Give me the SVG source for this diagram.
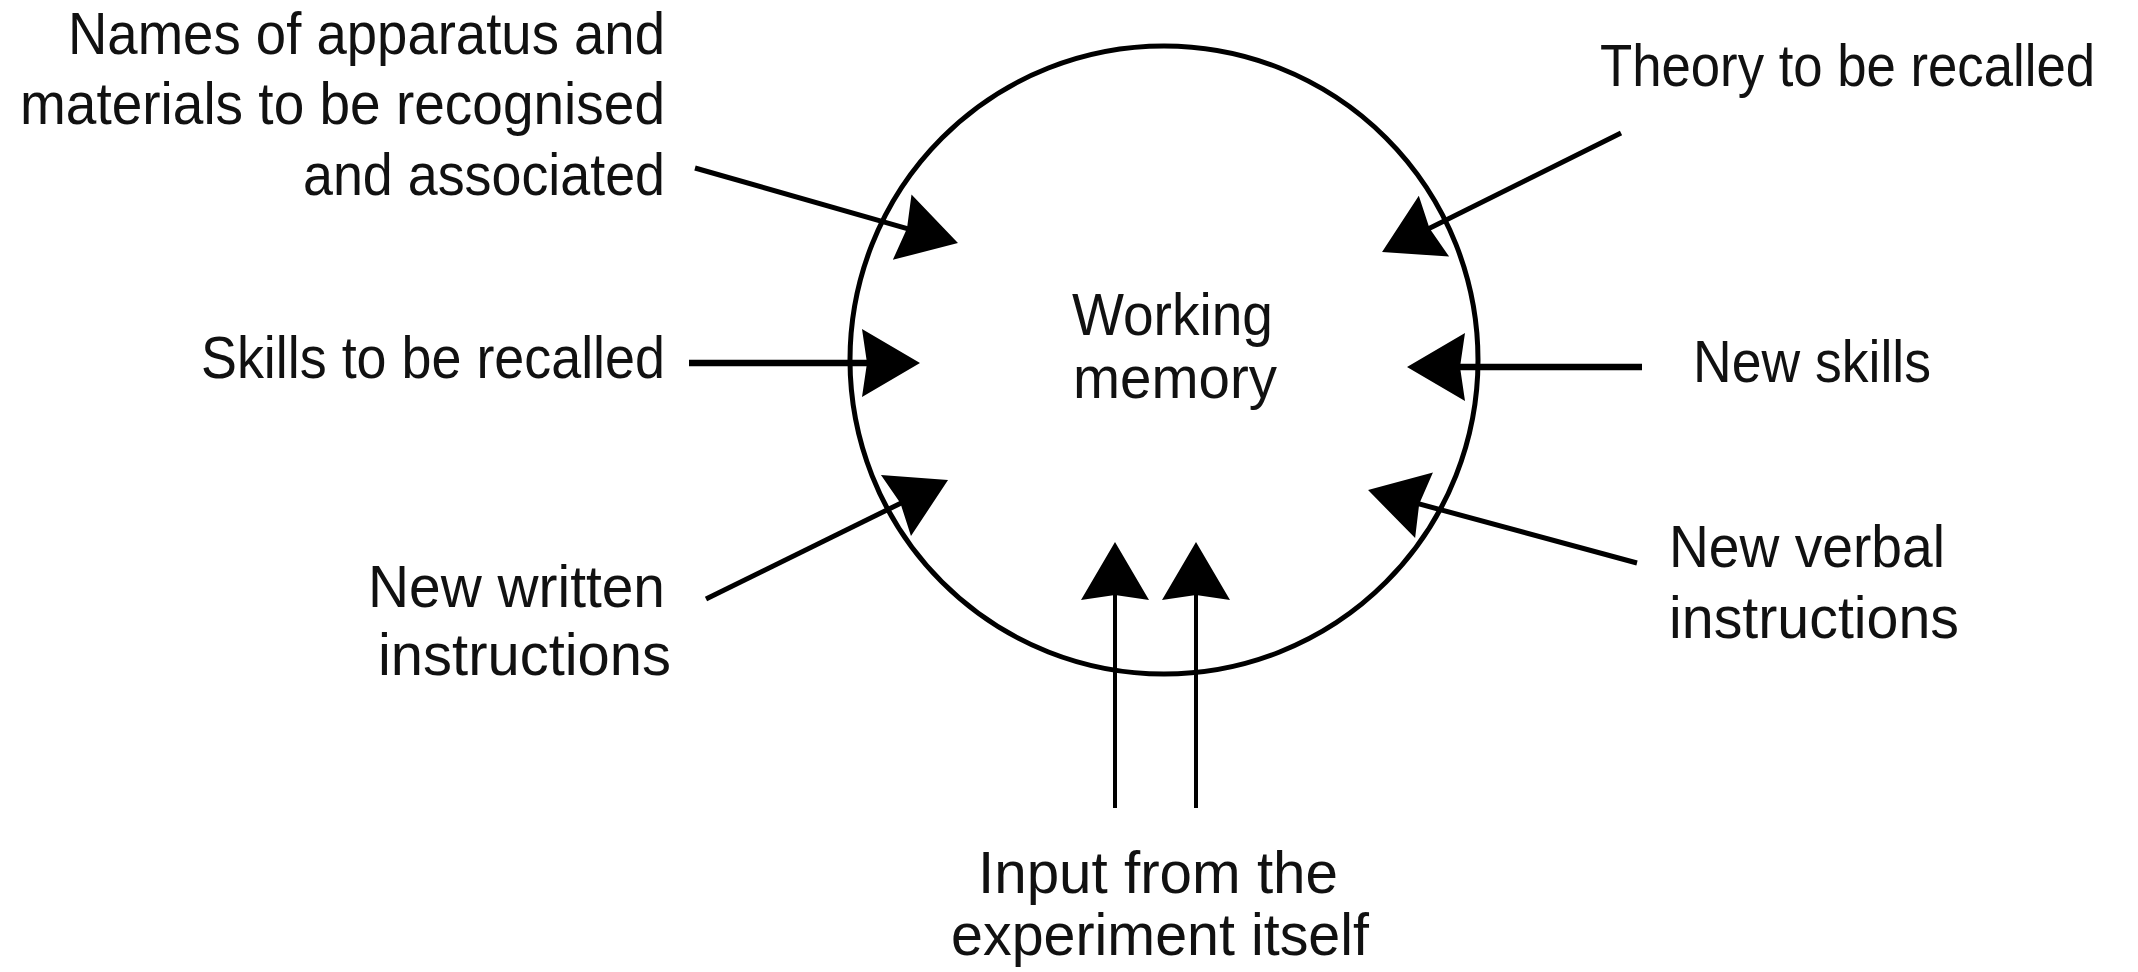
<svg xmlns="http://www.w3.org/2000/svg" width="2138" height="972" viewBox="0 0 2138 972">
<style>
  text { font-family: "Liberation Sans Narrow", "Liberation Sans", Arial, sans-serif; font-size: 59px; fill: #111; }
  .conn { stroke: #000; fill: none; stroke-linecap: butt; }
  .thick { stroke-width: 6.5; }
  .mid { stroke-width: 5; }
  .thin { stroke-width: 4; }
</style>
<defs>
  <marker id="ah" markerUnits="userSpaceOnUse" markerWidth="70" markerHeight="80" viewBox="-62 -40 70 80" refX="-30" refY="0" orient="auto">
    <path d="M0,0 L-58,-34 L-53,0 L-58,34 Z" fill="#000"/>
  </marker>
</defs>
<rect width="2138" height="972" fill="#fff"/>

<g id="working-memory">
  <circle cx="1164" cy="360" r="314" fill="none" stroke="#000" stroke-width="5"/>
  <text x="1072" y="335" textLength="201" lengthAdjust="spacingAndGlyphs">Working</text>
  <text x="1073" y="398" textLength="204" lengthAdjust="spacingAndGlyphs">memory</text>
</g>

<g id="names-apparatus">
  <text x="68" y="54" textLength="597" lengthAdjust="spacingAndGlyphs">Names of apparatus and</text>
  <text x="20" y="124" textLength="645" lengthAdjust="spacingAndGlyphs">materials to be recognised</text>
  <text x="303" y="195" textLength="362" lengthAdjust="spacingAndGlyphs">and associated</text>
</g>

<g id="skills-recalled">
  <text x="201" y="378" textLength="464" lengthAdjust="spacingAndGlyphs">Skills to be recalled</text>
</g>

<g id="new-written">
  <text x="368" y="607" textLength="297" lengthAdjust="spacingAndGlyphs">New written</text>
  <text x="378" y="675" textLength="293" lengthAdjust="spacingAndGlyphs">instructions</text>
</g>

<g id="theory-recalled">
  <text x="1600" y="86" font-size="52" textLength="495" lengthAdjust="spacingAndGlyphs">Theory to be recalled</text>
</g>

<g id="new-skills">
  <text x="1693" y="382" textLength="238" lengthAdjust="spacingAndGlyphs">New skills</text>
</g>

<g id="new-verbal">
  <text x="1669" y="567" textLength="276" lengthAdjust="spacingAndGlyphs">New verbal</text>
  <text x="1669" y="638" textLength="290" lengthAdjust="spacingAndGlyphs">instructions</text>
</g>

<g id="experiment-input">
  <text x="978" y="893" textLength="360" lengthAdjust="spacingAndGlyphs">Input from the</text>
  <text x="951" y="955" textLength="418" lengthAdjust="spacingAndGlyphs">experiment itself</text>
</g>

<g id="connectors">
  <line class="conn mid" x1="695" y1="168" x2="929.1" y2="234.8" marker-end="url(#ah)"/>
  <line class="conn thick" x1="689" y1="363" x2="890" y2="363" marker-end="url(#ah)"/>
  <line class="conn mid" x1="706" y1="599" x2="921.1" y2="493.2" marker-end="url(#ah)"/>
  <line class="conn mid" x1="1621" y1="133" x2="1408.9" y2="238.6" marker-end="url(#ah)"/>
  <line class="conn thick" x1="1642" y1="367" x2="1437" y2="367" marker-end="url(#ah)"/>
  <line class="conn mid" x1="1637" y1="563" x2="1397" y2="497.9" marker-end="url(#ah)"/>
  <line class="conn thin" x1="1115" y1="808" x2="1115" y2="572" marker-end="url(#ah)"/>
  <line class="conn thin" x1="1196" y1="808" x2="1196" y2="572" marker-end="url(#ah)"/>
</g>
</svg>
